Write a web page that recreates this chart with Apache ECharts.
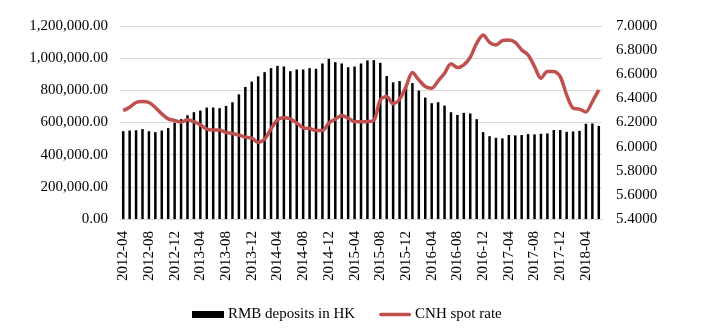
<!DOCTYPE html>
<html>
<head>
<meta charset="utf-8">
<script src="https://cdn.jsdelivr.net/npm/echarts@6/dist/echarts.min.js"></script>
<style>html,body{margin:0;padding:0;background:#fff}#c{width:706px;height:331px}</style>
</head>
<body>
<div id="c"></div>
<script>
var categories = [
 '2012-04','2012-05','2012-06','2012-07','2012-08','2012-09','2012-10','2012-11','2012-12',
 '2013-01','2013-02','2013-03','2013-04','2013-05','2013-06','2013-07','2013-08','2013-09','2013-10','2013-11','2013-12',
 '2014-01','2014-02','2014-03','2014-04','2014-05','2014-06','2014-07','2014-08','2014-09','2014-10','2014-11','2014-12',
 '2015-01','2015-02','2015-03','2015-04','2015-05','2015-06','2015-07','2015-08','2015-09','2015-10','2015-11','2015-12',
 '2016-01','2016-02','2016-03','2016-04','2016-05','2016-06','2016-07','2016-08','2016-09','2016-10','2016-11','2016-12',
 '2017-01','2017-02','2017-03','2017-04','2017-05','2017-06','2017-07','2017-08','2017-09','2017-10','2017-11','2017-12',
 '2018-01','2018-02','2018-03','2018-04','2018-05','2018-06'
];
var deposits = [
 546000,550000,552000,559000,546000,540000,550000,565000,598000,
 621000,645000,664000,674000,693000,693000,689000,703000,726000,775000,821000,854000,
 887000,913000,938000,952000,948000,919000,930000,930000,938000,934000,967000,996000,
 975000,967000,944000,948000,967000,986000,988000,971000,889000,850000,858000,825000,
 845000,798000,755000,720000,726000,705000,664000,647000,660000,656000,621000,540000,
 515000,505000,501000,522000,520000,522000,528000,526000,530000,532000,553000,553000,
 542000,544000,548000,592000,594000,579000
];
var cnhRate = [
 6.299,6.327,6.366,6.374,6.366,6.324,6.272,6.230,6.217,
 6.203,6.222,6.208,6.181,6.145,6.137,6.137,6.117,6.109,6.095,6.079,6.070,
 6.035,6.062,6.148,6.222,6.239,6.230,6.195,6.156,6.150,6.134,6.134,6.195,
 6.228,6.258,6.236,6.206,6.206,6.208,6.217,6.388,6.415,6.355,6.393,6.498,
 6.614,6.553,6.498,6.484,6.545,6.608,6.688,6.655,6.677,6.741,6.857,6.926,
 6.865,6.843,6.879,6.884,6.865,6.802,6.760,6.664,6.567,6.622,6.622,6.581,
 6.429,6.319,6.311,6.288,6.374,6.470
];
var seriesNames = ['RMB deposits in HK', 'CNH spot rate'];

var font = 'Liberation Serif, Times New Roman, serif';
var chart = echarts.init(document.getElementById('c'), null, {renderer: 'canvas'});
chart.setOption({
  animation: false,
  textStyle: {fontFamily: font},
  grid: {left: 120, right: 104, top: 26, bottom: 112, containLabel: false},
  legend: {
    bottom: 9, left: 192, padding: 0,
    itemWidth: 32, itemHeight: 7, itemGap: 24, symbolKeepAspect: true,
    textStyle: {fontFamily: font, fontSize: 15, color: '#000', padding: [0, 0, 0, -1]},
    data: [
      {name: seriesNames[0], icon: 'rect'},
      {name: seriesNames[1], icon: 'path://M1.75,0H30.25A1.75,1.75,0,0,1,30.25,3.5H1.75A1.75,1.75,0,0,1,1.75,0Z'}
    ]
  },
  xAxis: {
    type: 'category', data: categories, boundaryGap: true,
    axisLine: {lineStyle: {color: '#d9d9d9'}},
    axisTick: {interval: 3, length: 4, lineStyle: {color: '#d9d9d9'}},
    axisLabel: {interval: 3, rotate: 90, margin: 12, color: '#000', fontSize: 15, fontFamily: font}
  },
  yAxis: [{
    type: 'value', min: 0, max: 1200000, interval: 200000,
    axisLine: {show: false}, axisTick: {show: false},
    splitLine: {lineStyle: {color: '#d9d9d9'}},
    axisLabel: {margin: 12, color: '#000', fontSize: 15, fontFamily: font,
      formatter: function (v) { return v.toLocaleString('en-US', {minimumFractionDigits: 2, maximumFractionDigits: 2}); }}
  }, {
    type: 'value', min: 5.4, max: 7.0, interval: 0.2,
    axisLine: {show: false}, axisTick: {show: false}, splitLine: {show: false},
    axisLabel: {margin: 14, color: '#000', fontSize: 15, fontFamily: font,
      formatter: function (v) { return v.toFixed(4); }}
  }],
  series: [{
    name: seriesNames[0], type: 'bar', data: deposits, barWidth: 2.5,
    itemStyle: {color: '#000'}
  }, {
    name: seriesNames[1], type: 'line', yAxisIndex: 1, data: cnhRate,
    symbol: 'none', smooth: 0.3,
    lineStyle: {color: '#c0504d', width: 3.5}, itemStyle: {color: '#c0504d'}
  }]
});
</script>
</body>
</html>
